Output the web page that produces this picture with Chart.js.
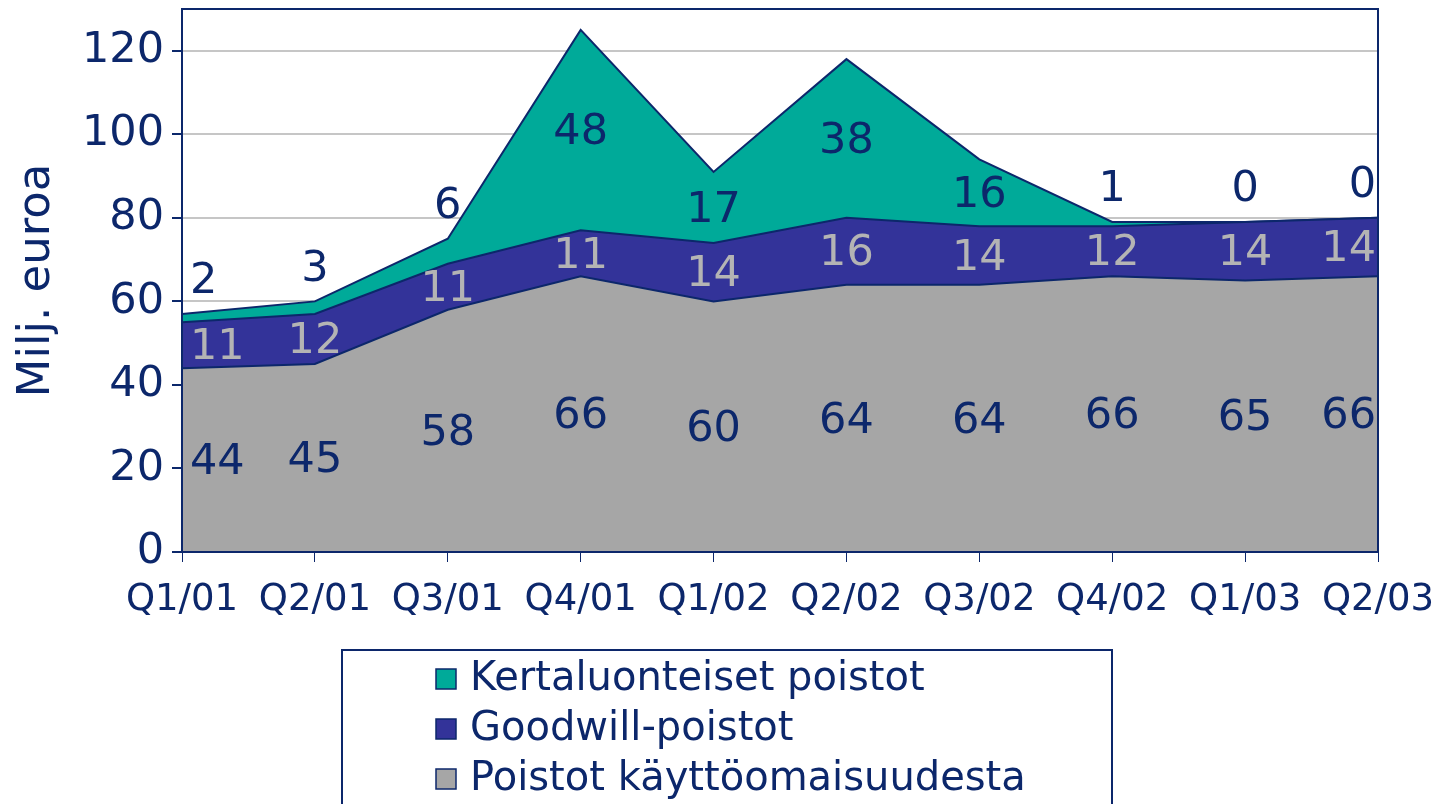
<!DOCTYPE html>
<html>
<head>
<meta charset="utf-8">
<script src="https://cdn.jsdelivr.net/npm/chart.js@4"></script>
<style>
  body { margin: 0; background: #fff; }
  canvas { display: block; }
</style>
</head>
<body>
<canvas id="chart" width="1443" height="804"></canvas>
<script>
// data
const quarters = ["Q1/01", "Q2/01", "Q3/01", "Q4/01", "Q1/02", "Q2/02", "Q3/02", "Q4/02", "Q1/03", "Q2/03"];
const kayttoomaisuus = [44, 45, 58, 66, 60, 64, 64, 66, 65, 66];
const goodwill = [11, 12, 11, 11, 14, 16, 14, 12, 14, 14];
const kertaluonteiset = [2, 3, 6, 48, 17, 38, 16, 1, 0, 0];
const yTicks = [0, 20, 40, 60, 80, 100, 120];

const NAVY = "#0c276b";
const FONT = "'DejaVu Sans', Verdana, sans-serif";

// data labels inside the bands
const bandLabels = {
  id: "bandLabels",
  afterDatasetsDraw(chart) {
    const { ctx, chartArea } = chart;
    const y = chart.scales.y;
    const x = chart.scales.x;

    // frame round the plot
    ctx.save();
    ctx.strokeStyle = NAVY;
    ctx.lineWidth = 2;
    ctx.strokeRect(chartArea.left, chartArea.top, chartArea.right - chartArea.left, chartArea.bottom - chartArea.top);

    ctx.font = "43px " + FONT;
    ctx.textBaseline = "middle";
    const base = quarters.map(() => 0);
    chart.data.datasets.forEach((ds, i) => {
      ds.data.forEach((v, j) => {
        let px = x.getPixelForValue(j);
        ctx.textAlign = "center";
        if (j === 0) { ctx.textAlign = "left"; px += 8; }
        if (j === quarters.length - 1) { ctx.textAlign = "right"; px -= 2; }
        let py = y.getPixelForValue(base[j] + v / 2) + 3;
        if (i === 2 && v < 10) py = y.getPixelForValue(base[j] + v) - 32;
        ctx.fillStyle = ds.labelColor;
        ctx.fillText(String(v), px, py);
        base[j] += v;
      });
    });
    ctx.restore();
  },
  afterDraw(chart) {
    // boxed legend under the chart, top series first
    const { ctx } = chart;
    ctx.save();
    ctx.strokeStyle = NAVY;
    ctx.lineWidth = 2;
    ctx.strokeRect(342, 650, 770, 170);
    ctx.font = "40px " + FONT;
    ctx.textBaseline = "middle";
    ctx.textAlign = "left";
    const items = chart.data.datasets.slice().reverse();
    items.forEach((ds, k) => {
      const cy = 679 + k * 50;
      ctx.fillStyle = ds.backgroundColor;
      ctx.fillRect(436, cy - 10, 20, 20);
      ctx.lineWidth = 1.5;
      ctx.strokeRect(436, cy - 10, 20, 20);
      ctx.fillStyle = NAVY;
      ctx.fillText(ds.label, 470, cy + 1);
    });
    ctx.restore();
  }
};

new Chart(document.querySelector("#chart").getContext("2d"), {
  type: "line",
  data: {
    labels: quarters,
    datasets: [
      {
        label: "Poistot käyttöomaisuudesta",
        data: kayttoomaisuus,
        backgroundColor: "#a6a6a6",
        borderColor: NAVY,
        labelColor: NAVY,
        fill: "origin",
      },
      {
        label: "Goodwill-poistot",
        data: goodwill,
        backgroundColor: "#333399",
        borderColor: NAVY,
        labelColor: "#b4b4b4",
        fill: "-1",
      },
      {
        label: "Kertaluonteiset poistot",
        data: kertaluonteiset,
        backgroundColor: "#00aa99",
        borderColor: NAVY,
        labelColor: NAVY,
        fill: "-1",
      },
    ],
  },
  options: {
    responsive: false,
    animation: false,
    layout: { padding: { top: 9, right: 65, left: 0, bottom: 0 } },
    elements: {
      line: { borderWidth: 2, tension: 0 },
      point: { radius: 0 },
    },
    plugins: {
      legend: { display: false },
      tooltip: { enabled: false },
    },
    scales: {
      x: {
        offset: false,
        grid: { drawOnChartArea: false, drawTicks: true, tickLength: 10, tickColor: NAVY },
        border: { color: NAVY, width: 2 },
        ticks: { color: NAVY, font: { family: FONT, size: 37 }, padding: 16, maxRotation: 0, autoSkip: false },
        afterFit: (s) => { s.height = 252; s.paddingLeft = 0; s.paddingRight = 0; },
      },
      y: {
        stacked: true,
        min: 0,
        max: 130,
        grid: { color: "#c6c6c6", lineWidth: 2, tickLength: 10, tickColor: NAVY },
        border: { color: NAVY, width: 2 },
        ticks: { stepSize: 20, color: NAVY, font: { family: FONT, size: 43 }, padding: 8 },
        afterBuildTicks: (s) => { s.ticks = yTicks.map((v) => ({ value: v })); },
        title: { display: true, text: "Milj. euroa", color: NAVY, font: { family: FONT, size: 45 }, padding: { top: 10, bottom: 0 } },
        afterFit: (s) => { s.width = 182; s.paddingTop = 0; s.paddingBottom = 0; },
      },
    },
  },
  plugins: [bandLabels],
});
</script>
</body>
</html>
